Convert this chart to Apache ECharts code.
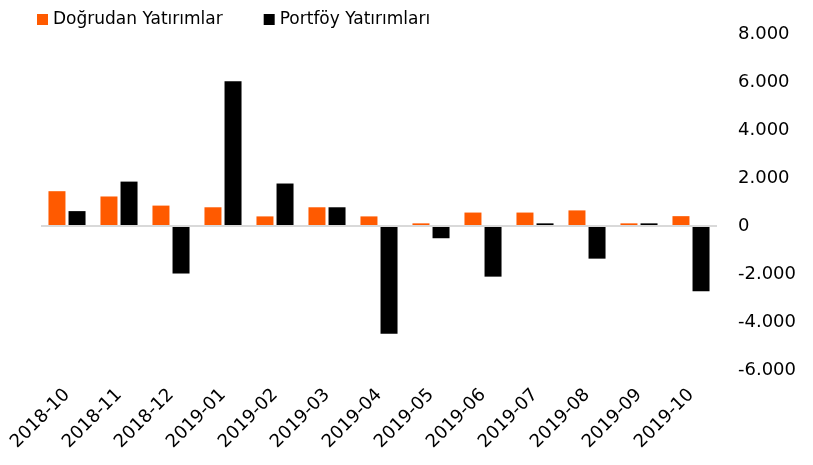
<!DOCTYPE html>
<html>
<head>
<meta charset="utf-8">
<script src="https://cdn.jsdelivr.net/npm/echarts@6/dist/echarts.min.js"></script>
<style>
  html, body { margin: 0; padding: 0; background: #fff; }
  #chart { width: 813px; height: 465px; }
</style>
</head>
<body>
<div id="chart"></div>
<script>
  // aylar
  const months = ['2018-10', '2018-11', '2018-12', '2019-01', '2019-02', '2019-03', '2019-04',
    '2019-05', '2019-06', '2019-07', '2019-08', '2019-09', '2019-10']
  // milyon USD, grafikten okunan yaklaşık değerler
  const dogrudan = [1450, 1230, 850, 780, 400, 780, 400, 110, 560, 560, 650, 110, 410]
  const portfoy = [620, 1850, -1980, 6030, 1770, 780, -4490, -510, -2110, 110, -1360, 110, -2720]
  const seriesNames = ['Doğrudan Yatırımlar', 'Portföy Yatırımları']

  const font = 'DejaVu Sans'

  function fmt(v) {
    const s = Math.abs(v).toString().replace(/\B(?=(\d{3})+(?!\d))/g, '.')
    return (v < 0 ? '-' : '') + s
  }

  const chart = echarts.init(document.getElementById('chart'))
  chart.setOption({
    animation: false,
    textStyle: { fontFamily: font },
    legend: {
      left: 32,
      top: 6,
      itemWidth: 11,
      itemHeight: 11,
      itemGap: 41,
      icon: 'rect',
      textStyle: { fontSize: 17, color: '#000', fontFamily: font },
      data: seriesNames
    },
    grid: { left: 41, right: 96, top: 34, bottom: 95 },
    xAxis: {
      type: 'category',
      data: months,
      axisLine: { show: false },
      axisTick: { show: false },
      axisLabel: { rotate: 45, fontSize: 18, color: '#000', margin: 22, interval: 0 }
    },
    yAxis: {
      type: 'value',
      position: 'right',
      min: -6000,
      max: 8000,
      interval: 2000,
      splitLine: { show: false },
      axisLine: { show: false },
      axisTick: { show: false },
      axisLabel: { fontSize: 18, color: '#000', margin: 21, formatter: fmt }
    },
    series: [
      {
        name: seriesNames[0],
        type: 'bar',
        data: dogrudan,
        barWidth: 17,
        barGap: '18%',
        itemStyle: { color: '#ff5a00' },
        markLine: {
          silent: true,
          symbol: 'none',
          label: { show: false },
          lineStyle: { color: '#d9d9d9', width: 2, type: 'solid' },
          data: [{ yAxis: 0 }]
        }
      },
      {
        name: seriesNames[1],
        type: 'bar',
        data: portfoy,
        barWidth: 17,
        itemStyle: { color: '#000' }
      }
    ]
  })
</script>
</body>
</html>
